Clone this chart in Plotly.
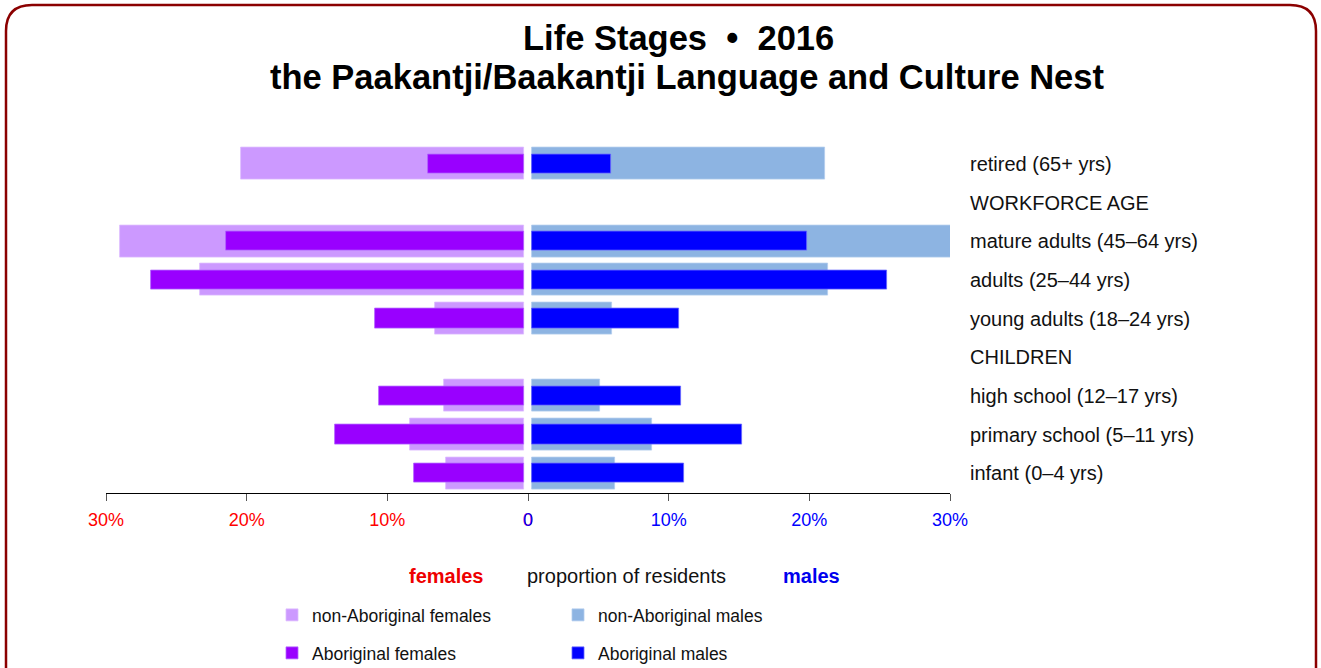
import plotly.graph_objects as go

W, H = 1321, 668

categories = [
    "retired (65+ yrs)", "WORKFORCE AGE", "mature adults (45–64 yrs)",
    "adults (25–44 yrs)", "young adults (18–24 yrs)", "CHILDREN",
    "high school (12–17 yrs)", "primary school (5–11 yrs)", "infant (0–4 yrs)",
]
nonab_females = [20.1, None, 28.7, 23.0, 6.3, None, 5.7, 8.1, 5.5]
ab_females = [6.8, None, 21.2, 26.5, 10.6, None, 10.3, 13.4, 7.8]
nonab_males = [20.8, None, 29.8, 21.0, 5.7, None, 4.8, 8.5, 5.9]
ab_males = [5.6, None, 19.5, 25.2, 10.4, None, 10.6, 14.9, 10.8]

tick_vals = [0, 10, 20, 30]
tick_text = ["0", "10%", "20%", "30%"]

NARROW = "Liberation Sans Narrow, Arial Narrow, Liberation Sans, Arial, sans-serif"
SANS = "Liberation Sans, Arial, sans-serif"
GAP = 0.3  # small gap either side of the centre line

def px_x(x):
    return x / W

def px_y(y):
    return 1 - y / H

fig = go.Figure()

def add_bar(vals, xaxis, yaxis, color, line_color, width, name, legend):
    fig.add_trace(go.Bar(
        y=categories, x=vals, base=GAP, orientation="h",
        xaxis=xaxis, yaxis=yaxis, width=width, name=name, legend=legend,
        marker=dict(color=color, line=dict(color=line_color, width=0.8)),
    ))

add_bar(nonab_females, "x", "y", "#CC99FF", "#DDBBFF", 0.83, "non-Aboriginal females", "legend")
add_bar(nonab_males, "x2", "y2", "#8DB4E2", "#B3CDEE", 0.83, "non-Aboriginal males", "legend")
add_bar(ab_females, "x", "y", "#9900FF", "#B366FF", 0.5, "Aboriginal females", "legend2")
add_bar(ab_males, "x2", "y2", "#0000FF", "#6666FF", 0.5, "Aboriginal males", "legend2")

y_dom = [px_y(492.5), px_y(144.5)]
x_left = [px_x(106), px_x(528)]
x_right = [px_x(528), px_x(950)]

axis_common = dict(
    tickvals=tick_vals, ticktext=tick_text, showline=True, linecolor="black",
    linewidth=1, ticks="outside", ticklen=7, tickcolor="#555555",
    showgrid=False, zeroline=False, ticklabelstandoff=4, automargin=False,
)

fig.update_layout(
    width=W, height=H, margin=dict(l=0, r=0, t=0, b=0, autoexpand=False),
    paper_bgcolor="white", plot_bgcolor="white",
    barmode="overlay", bargap=0, showlegend=True,
    xaxis=dict(domain=x_left, range=[30, 0], anchor="y",
               tickfont=dict(family=NARROW, size=18, color="#FF0000"), **axis_common),
    xaxis2=dict(domain=x_right, range=[0, 30], anchor="y2",
                tickfont=dict(family=NARROW, size=18, color="#0000FF"), **axis_common),
    yaxis=dict(domain=y_dom, type="category", categoryorder="array",
               categoryarray=categories, range=[8.5, -0.5], anchor="x",
               showticklabels=False, showgrid=False, zeroline=False, showline=False,
               automargin=False),
    yaxis2=dict(domain=y_dom, type="category", categoryorder="array",
                categoryarray=categories, range=[8.5, -0.5], anchor="x2",
                side="right", showgrid=False, zeroline=False, showline=False,
                ticks="", ticklabelstandoff=19, automargin=False,
                tickfont=dict(family=NARROW, size=20, color="#111111")),
    legend=dict(orientation="h", x=px_x(272), xanchor="left", y=px_y(615),
                yanchor="middle", entrywidth=241, entrywidthmode="pixels",
                font=dict(family=NARROW, size=17.5, color="#111111"),
                bgcolor="rgba(0,0,0,0)", borderwidth=0, traceorder="normal"),
    legend2=dict(orientation="h", x=px_x(272), xanchor="left", y=px_y(653),
                 yanchor="middle", entrywidth=241, entrywidthmode="pixels",
                 font=dict(family=NARROW, size=17.5, color="#111111"),
                 bgcolor="rgba(0,0,0,0)", borderwidth=0, traceorder="normal"),
)

annotations = [
    dict(text="Life Stages  •  2016", x=px_x(678), y=px_y(38),
         font=dict(family=SANS, size=34.5, color="black", weight="bold")),
    dict(text="the Paakantji/Baakantji Language and Culture Nest", x=px_x(687), y=px_y(77),
         font=dict(family=SANS, size=34.5, color="black", weight="bold")),
    dict(text="females", x=px_x(447), y=px_y(576),
         font=dict(family=NARROW, size=20, color="#EE0000", weight="bold")),
    dict(text="proportion of residents", x=px_x(626), y=px_y(576),
         font=dict(family=NARROW, size=20, color="#111111")),
    dict(text="males", x=px_x(812), y=px_y(576),
         font=dict(family=NARROW, size=20, color="#0000EE", weight="bold")),
]
for a in annotations:
    fig.add_annotation(xref="paper", yref="paper", showarrow=False,
                       xanchor="center", yanchor="middle", **a)

# rounded frame (bottom edge runs off the page)
r = 26
L, R, T, B = 6, 1316, 5, 700
path = (f"M {px_x(L)},{px_y(B)} L {px_x(L)},{px_y(T + r)} "
        f"Q {px_x(L)},{px_y(T)} {px_x(L + r)},{px_y(T)} "
        f"L {px_x(R - r)},{px_y(T)} "
        f"Q {px_x(R)},{px_y(T)} {px_x(R)},{px_y(T + r)} "
        f"L {px_x(R)},{px_y(B)}")
fig.add_shape(type="path", path=path, xref="paper", yref="paper",
              line=dict(color="#8B0000", width=2.5), layer="above")

fig.write_html(
    "out.html",
    config={"displayModeBar": False},
    post_script="document.body.style.margin='0';document.body.style.overflow='hidden';",
)
